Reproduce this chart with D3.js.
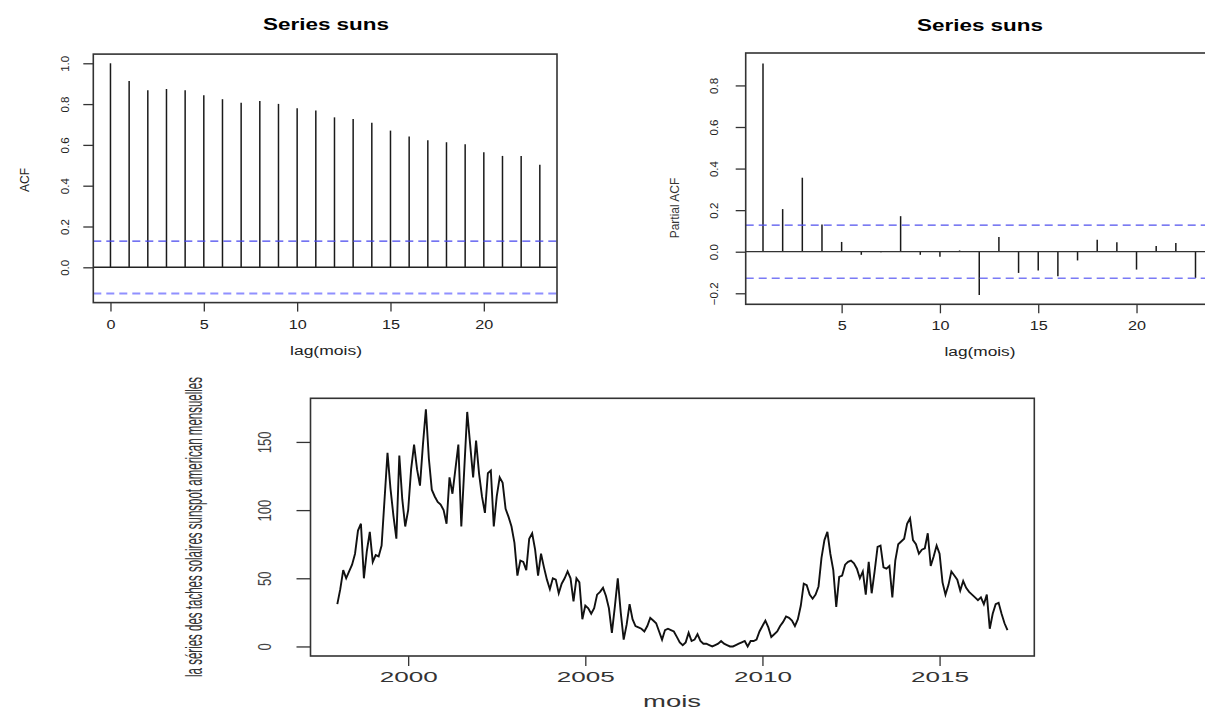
<!DOCTYPE html>
<html lang="fr">
<head>
<meta charset="UTF-8">
<title>Series suns</title>
<script src="https://d3js.org/d3.v7.min.js"></script>
<style>
  body { margin: 0; background: #fff; }
  svg { display: block; font-family: "Liberation Sans", Arial, sans-serif; }
  .tick line { stroke: #333; stroke-width: 1.3; }
  .tick text { fill: #222; }
</style>
</head>
<body>
<svg width="1205" height="710"></svg>
<script>
// ---- data ----
const acfLags = [0, 1, 2, 3, 4, 5, 6, 7, 8, 9, 10, 11, 12, 13, 14, 15, 16, 17, 18, 19, 20, 21, 22, 23];
const acfValues = [1.0, 0.913, 0.868, 0.874, 0.868, 0.843, 0.824, 0.806, 0.815, 0.801, 0.779, 0.768,
                   0.735, 0.727, 0.708, 0.670, 0.641, 0.623, 0.613, 0.603, 0.564, 0.546, 0.546, 0.503];
const pacfLags = [1, 2, 3, 4, 5, 6, 7, 8, 9, 10, 11, 12, 13, 14, 15, 16, 17, 18, 19, 20, 21, 22, 23];
const pacfValues = [0.905, 0.205, 0.356, 0.131, 0.047, -0.015, -0.003, 0.171, -0.015, -0.024, 0.006, -0.208,
                    0.071, -0.102, -0.090, -0.118, -0.042, 0.058, 0.045, -0.086, 0.027, 0.042, -0.126];
const ciBound = 0.128;

const acfTicksY = [0, 0.2, 0.4, 0.6, 0.8, 1.0];
const pacfTicksY = [-0.2, 0, 0.2, 0.4, 0.6, 0.8];
const lagTicks = [0, 5, 10, 15, 20];

// monthly sunspot numbers, Jan 1998 .. Dec 2016
const startYear = 1998;
const sunspots = [
  31, 42, 56, 50, 55, 60, 68, 85, 90, 50,
  70, 84, 62, 67, 66, 74, 108, 142, 116, 96,
  79, 140, 108, 88, 100, 130, 148, 130, 118, 148,
  174, 138, 115, 110, 106, 104, 100, 90, 124, 112,
  130, 148, 88, 130, 172, 148, 124, 151, 127, 110,
  98, 127, 129, 88, 110, 124, 120, 101, 95, 88,
  76, 52, 63, 62, 56, 79, 83, 71, 52, 68,
  58, 49, 42, 50, 49, 39, 46, 50, 55, 50,
  33, 50, 47, 20, 30, 28, 24, 28, 38, 40,
  43, 37, 28, 10, 29, 50, 25, 5, 16, 31,
  20, 15, 14, 13, 11, 15, 21, 19, 17, 11,
  5, 12, 13, 12, 11, 7, 3, 1, 3, 10,
  4, 5, 9, 4, 2, 2, 1, 0, 1, 2,
  4, 2, 1, 0, 0, 1, 2, 3, 4, 0,
  4, 4, 5, 11, 15, 19, 14, 7, 9, 11,
  15, 18, 22, 21, 19, 15, 20, 30, 46, 45,
  38, 35, 38, 44, 65, 78, 84, 68, 56, 29,
  51, 52, 60, 62, 63, 61, 57, 50, 55, 38,
  62, 39, 55, 73, 74, 58, 57, 59, 36, 63,
  75, 77, 79, 90, 94, 78, 75, 68, 71, 72,
  83, 59, 66, 74, 68, 47, 38, 45, 55, 52,
  49, 41, 48, 43, 40, 38, 36, 34, 36, 31,
  38, 13, 24, 31, 32, 24, 17, 12
];
const yearTicks = [2000, 2005, 2010, 2015];
const levelTicks = [0, 50, 100, 150];

const svg = d3.select("svg");
svg.append("rect").attr("width", 1205).attr("height", 710).attr("fill", "#fff");

function box(x, y) {
  const [x0, x1] = x.range(), [y0, y1] = y.range();
  svg.append("rect")
    .attr("x", x0).attr("y", y1)
    .attr("width", x1 - x0).attr("height", y0 - y1)
    .attr("fill", "none").attr("stroke", "#333").attr("stroke-width", 1.6);
}

function hline(x, y, v, color, width, dash) {
  svg.append("line")
    .attr("x1", x.range()[0]).attr("x2", x.range()[1])
    .attr("y1", y(v)).attr("y2", y(v))
    .attr("stroke", color).attr("stroke-width", width)
    .attr("stroke-dasharray", dash || null);
}

// horizontal labels look stretched in the picture, so we fix their width
function xAxis(x, yPos, ticks, opts) {
  const g = svg.append("g")
    .attr("transform", `translate(0,${yPos})`)
    .call(d3.axisBottom(x).tickValues(ticks).tickFormat(d3.format("d"))
      .tickSize(opts.tick).tickSizeOuter(0));
  g.select(".domain").remove();
  g.selectAll(".tick text")
    .attr("y", opts.ty).attr("dy", 0)
    .style("font-size", opts.size + "px")
    .attr("textLength", d => String(d).length * opts.charW)
    .attr("lengthAdjust", "spacingAndGlyphs");
  return g;
}

function yAxis(x0, y, ticks, fmt, opts) {
  const g = svg.append("g")
    .attr("transform", `translate(${x0},0)`)
    .call(d3.axisLeft(y).tickValues(ticks).tickFormat(fmt)
      .tickSize(opts.tick).tickSizeOuter(0));
  g.select(".domain").remove();
  g.selectAll(".tick text")
    .attr("x", 0).attr("dy", 0)
    .attr("text-anchor", "middle")
    .attr("transform", `translate(${-opts.off},0) rotate(-90)`)
    .style("font-size", opts.size + "px");
  if (opts.charW) {
    g.selectAll(".tick text")
      .attr("textLength", d => fmt(d).length * opts.charW)
      .attr("lengthAdjust", "spacingAndGlyphs");
  }
  return g;
}

function label(x, y, txt, size, opts) {
  const t = svg.append("text")
    .attr("text-anchor", "middle")
    .style("font-size", size + "px")
    .attr("fill", opts.color || "#222")
    .style("font-weight", opts.bold ? "bold" : null)
    .text(txt);
  if (opts.rotate) {
    t.attr("transform", `translate(${x},${y}) rotate(-90)`);
  } else {
    t.attr("x", x).attr("y", y);
  }
  if (opts.len) t.attr("textLength", opts.len).attr("lengthAdjust", "spacingAndGlyphs");
  return t;
}

const fmt1 = d3.format(".1f");

// ---- ACF panel ----
const xAcf = d3.scaleLinear().domain([-0.92, 23.92]).range([93.3, 557]);
const yAcf = d3.scaleLinear().domain([-0.173, 1.045]).range([302.6, 54.1]);

svg.append("g").selectAll("line")
  .data(acfLags)
  .join("line")
  .attr("x1", d => xAcf(d)).attr("x2", d => xAcf(d))
  .attr("y1", yAcf(0)).attr("y2", (d, i) => yAcf(acfValues[i]))
  .attr("stroke", "#1a1a1a").attr("stroke-width", 1.5);
hline(xAcf, yAcf, 0, "#222", 1.4);
hline(xAcf, yAcf, ciBound, "#4646ee", 1.2, "8,5");
hline(xAcf, yAcf, -ciBound, "#9090ff", 2, "8,5");
box(xAcf, yAcf);
xAxis(xAcf, 302.6, lagTicks, { tick: 9, ty: 26, size: 12, charW: 9 });
yAxis(93.3, yAcf, acfTicksY, fmt1, { tick: 10, off: 24, size: 11.5 });
label(326, 30, "Series  suns", 16, { bold: true, len: 126, color: "#000" });
label(326, 355, "lag(mois)", 12, { len: 72 });
label(29, 180, "ACF", 12, { rotate: true });

// ---- PACF panel ----
const xPacf = d3.scaleLinear().domain([0.12, 23.88]).range([745.7, 1212.8]);
const yPacf = d3.scaleLinear().domain([-0.253, 0.956]).range([304.3, 53]);

svg.append("g").selectAll("line")
  .data(pacfLags)
  .join("line")
  .attr("x1", d => xPacf(d)).attr("x2", d => xPacf(d))
  .attr("y1", yPacf(0)).attr("y2", (d, i) => yPacf(pacfValues[i]))
  .attr("stroke", "#1a1a1a").attr("stroke-width", 1.5);
hline(xPacf, yPacf, 0, "#333", 1.3);
hline(xPacf, yPacf, ciBound, "#5050ee", 1.2, "8,5");
hline(xPacf, yPacf, -ciBound, "#7a7af5", 1.5, "8,5");
box(xPacf, yPacf);
xAxis(xPacf, 304.3, [5, 10, 15, 20], { tick: 9, ty: 26, size: 12, charW: 9 });
yAxis(745.7, yPacf, pacfTicksY, fmt1, { tick: 10, off: 28, size: 11.5 });
label(980, 31, "Series  suns", 16, { bold: true, len: 126, color: "#000" });
label(980, 356, "lag(mois)", 12, { len: 71 });
label(679, 208, "Partial ACF", 12, { rotate: true, color: "#333" });

// ---- time series panel ----
const xTs = d3.scaleLinear().domain([1997.243, 2017.674]).range([310.5, 1034.3]);
const yTs = d3.scaleLinear().domain([-7, 182]).range([656, 398.3]);

const line = d3.line()
  .x((d, i) => xTs(startYear + i / 12))
  .y(d => yTs(d));
svg.append("path")
  .datum(sunspots)
  .attr("d", line)
  .attr("fill", "none")
  .attr("stroke", "#111")
  .attr("stroke-width", 1.9);

box(xTs, yTs);
xAxis(xTs, 656, yearTicks, { tick: 10, ty: 26, size: 15, charW: 14.5 })
  .selectAll(".tick text").style("fill", "#333");
yAxis(310.5, yTs, levelTicks, d3.format("d"), { tick: 14, off: 40, size: 19, charW: 7.3 })
  .selectAll(".tick text").style("fill", "#444");
label(672, 707, "mois", 16, { len: 58, color: "#333" });
label(202, 527, "la séries des taches solaires sunspot american mensuelles", 24,
  { rotate: true, len: 300, color: "#333" });
</script>
</body>
</html>
